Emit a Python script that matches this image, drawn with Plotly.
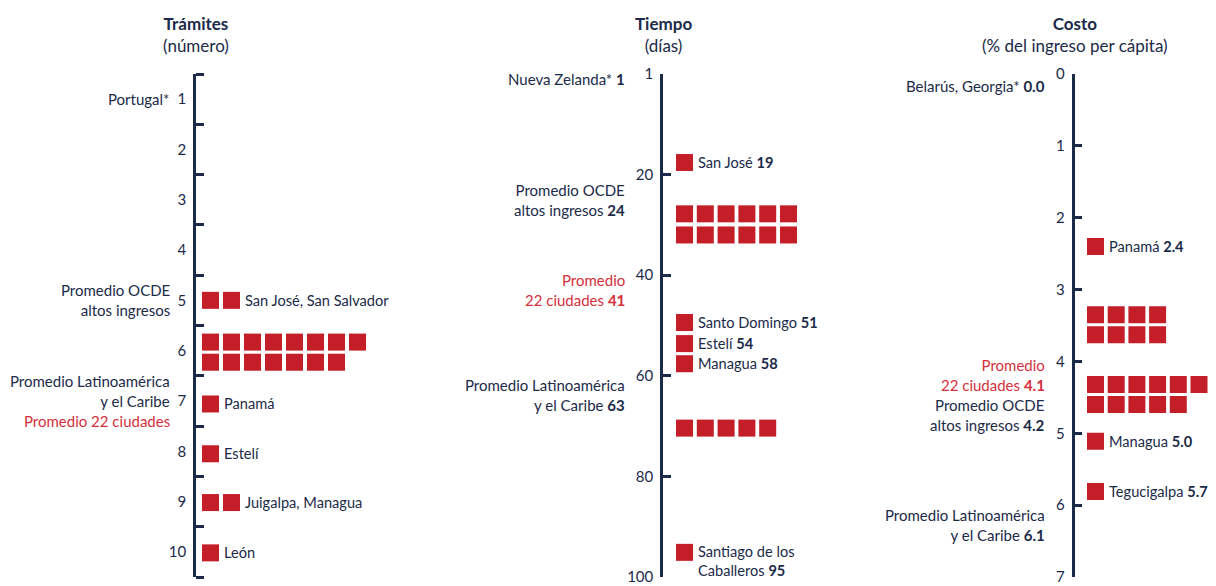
import plotly.graph_objects as go

NAVY = "#1b2a49"
RED = "#c41e28"
RED_TXT = "#d3303b"
FONT = "Lato"

# ---- Trámites (número) ----
tramites_fila_y = [5.0, 5.83, 6.23, 7.06, 8.05, 9.02, 10.02]
tramites_fila_n = [2, 8, 7, 1, 1, 2, 1]
tramites_fila_txt = ["San José, San Salvador", "", "", "Panamá", "Estelí",
                     "Juigalpa, Managua", "León"]
tramites_ticks = [1, 2, 3, 4, 5, 6, 7, 8, 9, 10]
tramites_ref_y = [1, 5.0, 6.8, 7.39]
tramites_ref_txt = ["Portugal*", "Promedio OCDE<br>altos ingresos",
                    "Promedio Latinoamérica<br>y el Caribe", "Promedio 22 ciudades"]
tramites_ref_rojo = [False, False, False, True]

# ---- Tiempo (días) ----
tiempo_fila_y = [17.6, 27.8, 32.0, 49.4, 53.6, 57.6, 70.4, 95.1]
tiempo_fila_n = [1, 6, 6, 1, 1, 1, 5, 1]
tiempo_fila_txt = ["San José <b>19</b>", "", "", "Santo Domingo <b>51</b>",
                   "Estelí <b>54</b>", "Managua <b>58</b>", "",
                   "Santiago de los<br>Caballeros <b>95</b>"]
tiempo_ticks = [0, 20, 40, 60, 80, 100]
tiempo_ticktext = ["1", "20", "40", "60", "80", "100"]
tiempo_ref_y = [1, 25.0, 42.9, 63.8]
tiempo_ref_txt = ["Nueva Zelanda* <b>1</b>", "Promedio OCDE<br>altos ingresos <b>24</b>",
                  "Promedio<br>22 ciudades <b>41</b>",
                  "Promedio Latinoamérica<br>y el Caribe <b>63</b>"]
tiempo_ref_rojo = [False, False, True, False]

# ---- Costo (% del ingreso per cápita) ----
costo_fila_y = [2.40, 3.35, 3.63, 4.32, 4.60, 5.11, 5.81]
costo_fila_n = [1, 4, 4, 6, 5, 1, 1]
costo_fila_txt = ["Panamá <b>2.4</b>", "", "", "", "", "Managua <b>5.0</b>",
                  "Tegucigalpa <b>5.7</b>"]
costo_ticks = [0, 1, 2, 3, 4, 5, 6, 7]
costo_ref_y = [0.16, 4.19, 4.74, 6.27]
costo_ref_txt = ["Belarús, Georgia* <b>0.0</b>", "Promedio<br>22 ciudades <b>4.1</b>",
                 "Promedio OCDE<br>altos ingresos <b>4.2</b>",
                 "Promedio Latinoamérica<br>y el Caribe <b>6.1</b>"]
costo_ref_rojo = [False, True, False, False]

# page adds an 8px body margin, so the figure is sized to fit inside the window
W, H = 1208, 578
TOP, BOTTOM = 66, 569  # plot area in figure pixels

paneles = [
    dict(titulo="Trámites", sub="(número)", eje=188, ancho=260, off=14.5, paso=21.0,
         rango=[10.5, 0.5], ticks=tramites_ticks, ticktext=None, menores=True,
         fy=tramites_fila_y, fn=tramites_fila_n, ft=tramites_fila_txt,
         ry=tramites_ref_y, rt=tramites_ref_txt, rr=tramites_ref_rojo, gap=24),
    dict(titulo="Tiempo", sub="(días)", eje=655, ancho=250, off=21.5, paso=20.8,
         rango=[100, 0], ticks=tiempo_ticks, ticktext=tiempo_ticktext, menores=False,
         fy=tiempo_fila_y, fn=tiempo_fila_n, ft=tiempo_fila_txt,
         ry=tiempo_ref_y, rt=tiempo_ref_txt, rr=tiempo_ref_rojo, gap=36),
    dict(titulo="Costo", sub="(% del ingreso per cápita)", eje=1066.5, ancho=141.5,
         off=21, paso=20.7, rango=[7, 0], ticks=costo_ticks, ticktext=None, menores=False,
         fy=costo_fila_y, fn=costo_fila_n, ft=costo_fila_txt,
         ry=costo_ref_y, rt=costo_ref_txt, rr=costo_ref_rojo, gap=27.5),
]

fig = go.Figure()
annotations = []
layout = {}

for i, p in enumerate(paneles, start=1):
    sx = "" if i == 1 else str(i)
    xs, ys = [], []
    for y, n in zip(p["fy"], p["fn"]):
        xs += list(range(n))
        ys += [y] * n
    fig.add_trace(go.Scatter(
        x=xs, y=ys, mode="markers", xaxis="x" + sx, yaxis="y" + sx,
        marker=dict(symbol="square", size=17, color=RED, line=dict(width=0)),
        hoverinfo="skip", showlegend=False,
    ))

    d0 = p["eje"] / W
    d1 = min((p["eje"] + p["ancho"]) / W, 1)
    layout["xaxis" + sx] = dict(
        domain=[d0, d1], anchor="y" + sx, visible=False,
        range=[-p["off"] / p["paso"], (p["ancho"] - p["off"]) / p["paso"]],
    )
    yax = dict(
        anchor="x" + sx, range=p["rango"], showgrid=False, zeroline=False,
        showline=True, linecolor=NAVY, linewidth=2.5,
        tickmode="array", tickvals=p["ticks"],
        tickfont=dict(family=FONT, size=15, color=NAVY),
        ticklabelstandoff=4,
    )
    if p["ticktext"]:
        yax["ticktext"] = p["ticktext"]
    if p["menores"]:
        yax["ticks"] = ""
        yax["minor"] = dict(
            tickvals=[v - 0.5 for v in p["ticks"]] + [p["ticks"][-1] + 0.5],
            ticks="inside", ticklen=8, tickwidth=2.5, tickcolor=NAVY,
        )
    else:
        yax.update(ticks="inside", ticklen=8, tickwidth=2.5, tickcolor=NAVY)
    layout["yaxis" + sx] = yax

    # títulos
    annotations.append(dict(
        xref="paper", yref="paper", x=d0, y=(BOTTOM - 26.5) / (BOTTOM - TOP),
        text=f"<b>{p['titulo']}</b><br>{p['sub']}", showarrow=False,
        xanchor="center", yanchor="middle",
        font=dict(family=FONT, size=17, color=NAVY),
    ))

    # etiquetas a la derecha de los cuadros
    for y, n, t in zip(p["fy"], p["fn"], p["ft"]):
        if not t:
            continue
        dos = "<br>" in t
        annotations.append(dict(
            xref="x" + sx, yref="y" + sx, x=n - 1, y=y, text=t, showarrow=False,
            xanchor="left", yanchor="top" if dos else "middle",
            xshift=11, yshift=11 if dos else 0, align="left",
            font=dict(family=FONT, size=14.6, color=NAVY),
        ))

    # referencias a la izquierda
    for y, t, rojo in zip(p["ry"], p["rt"], p["rr"]):
        annotations.append(dict(
            xref=f"x{sx} domain", yref="y" + sx, x=0, y=y, text=t, showarrow=False,
            xanchor="right", yanchor="middle", xshift=-p["gap"], align="right",
            font=dict(family=FONT, size=15, color=RED_TXT if rojo else NAVY),
        ))

fig.update_layout(
    width=W, height=H,
    margin=dict(l=0, r=0, t=TOP, b=H - BOTTOM),
    paper_bgcolor="white", plot_bgcolor="white",
    annotations=annotations,
    hovermode=False,
    **layout,
)

fig.write_html("out.html")
